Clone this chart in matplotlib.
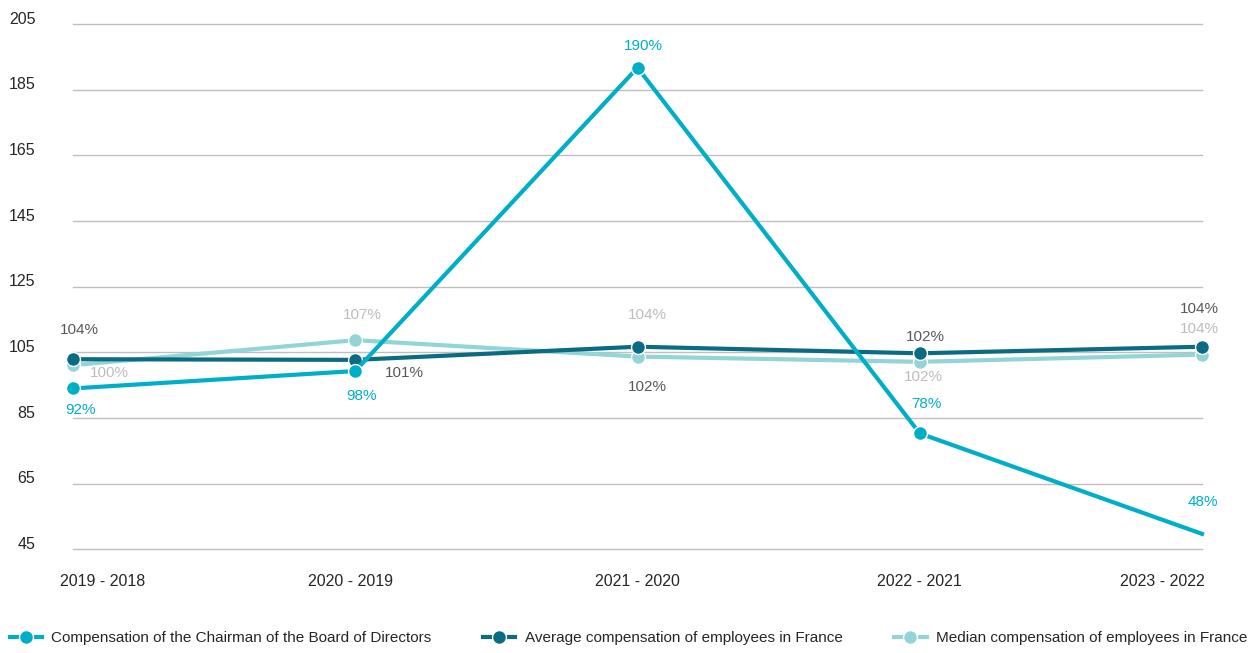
import numpy as np
import matplotlib.pyplot as plt
import matplotlib.transforms as mtransforms

plt.rcParams['font.family'] = ['Liberation Sans', 'DejaVu Sans']

# data
periods = ["2019 - 2018", "2020 - 2019", "2021 - 2020", "2022 - 2021", "2023 - 2022"]
chairman = [94.0, 99.3, 191.7, 80.3, 49.7]
average = [102.9, 102.7, 106.7, 104.7, 106.7]
median = [101.1, 108.7, 103.7, 102.1, 104.3]
chairman_lbl = ["92%", "98%", "190%", "78%", "48%"]
average_lbl = ["104%", "101%", "102%", "102%", "104%"]
median_lbl = ["100%", "107%", "104%", "102%", "104%"]
yticks = [45, 65, 85, 105, 125, 145, 165, 185, 205]

c_chair = "#00AEC7"
c_avg = "#0B6B82"
c_med = "#93D4D6"
c_txt_dark = "#595959"
c_txt_light = "#BDBDBD"

# label offsets in pixels (dx, dy) relative to the point
off_chair = [(7, -22), (6, -25), (6, 22), (7, 29), (1, 32)]
off_avg = [(6, 29), (49, -13), (10, -40), (6, 16), (-3, 38)]
off_med = [(36, -8), (7, 25), (10, 42), (4, -15), (-3, 26)]

fig = plt.figure(figsize=(12.52, 6.53), dpi=100)
ax = fig.add_axes([73 / 1252, 1 - 549.3 / 653, (1202 - 73) / 1252, (549.3 - 24) / 653])

x = np.arange(len(periods))
ax.plot(x, median, color=c_med, lw=3, marker="o", ms=10, mec="white", mew=1,
        clip_on=False, zorder=3, label="Median compensation of employees in France")
ax.plot(x, average, color=c_avg, lw=3, marker="o", ms=10, mec="white", mew=1,
        clip_on=False, zorder=4, label="Average compensation of employees in France")
ax.plot(x, chairman, color=c_chair, lw=3, marker="o", ms=10, mec="white", mew=1,
        markevery=[0, 1, 2, 3], clip_on=False, zorder=5,
        label="Compensation of the Chairman of the Board of Directors")

for vals, lbls, offs, col in [(chairman, chairman_lbl, off_chair, c_chair),
                              (average, average_lbl, off_avg, c_txt_dark),
                              (median, median_lbl, off_med, c_txt_light)]:
    for i, (v, t, o) in enumerate(zip(vals, lbls, offs)):
        ax.annotate(t, (i, v), xytext=o, textcoords="offset pixels",
                    ha="center", va="center", fontsize=11, color=col, zorder=6)

ax.set_xlim(0, 4)
ax.set_ylim(45, 205)
ax.set_yticks(yticks)
ax.set_xticks(x)
ax.set_xticklabels(periods)
ax.grid(axis="y", color="#BFBFBF", lw=1)
for gl in ax.get_ygridlines():
    gl.set_clip_on(False)
ax.set_axisbelow(True)
for s in ax.spines.values():
    s.set_visible(False)
ax.tick_params(axis="y", length=0, pad=27, labelsize=11.5, labelcolor="#262626")
ax.tick_params(axis="x", length=0, pad=18, labelsize=11.5, labelcolor="#262626")

# y labels sit a little above their gridlines
up = mtransforms.ScaledTranslation(0, 4.5 / 72, fig.dpi_scale_trans)
for lab in ax.get_yticklabels():
    lab.set_transform(lab.get_transform() + up)

# end labels on the x axis are pulled inside the plot
xl = ax.get_xticklabels()
xl[0].set_horizontalalignment("left")
xl[0].set_transform(xl[0].get_transform() +
                    mtransforms.ScaledTranslation(-9.5 / 72, 0, fig.dpi_scale_trans))
xl[1].set_transform(xl[1].get_transform() +
                    mtransforms.ScaledTranslation(-3.5 / 72, 0, fig.dpi_scale_trans))
xl[-1].set_horizontalalignment("right")
xl[-1].set_transform(xl[-1].get_transform() +
                     mtransforms.ScaledTranslation(2 / 72, 0, fig.dpi_scale_trans))

handles, labels = ax.get_legend_handles_labels()
order = [2, 1, 0]
fig.legend([handles[i] for i in order], [labels[i] for i in order],
           loc="center", bbox_to_anchor=(0.502, 1 - 638 / 653), ncol=3, frameon=False,
           fontsize=11, handlelength=2.1, handletextpad=0.6, columnspacing=3.4,
           labelcolor="#262626")

fig.savefig("out.png", dpi=100)
